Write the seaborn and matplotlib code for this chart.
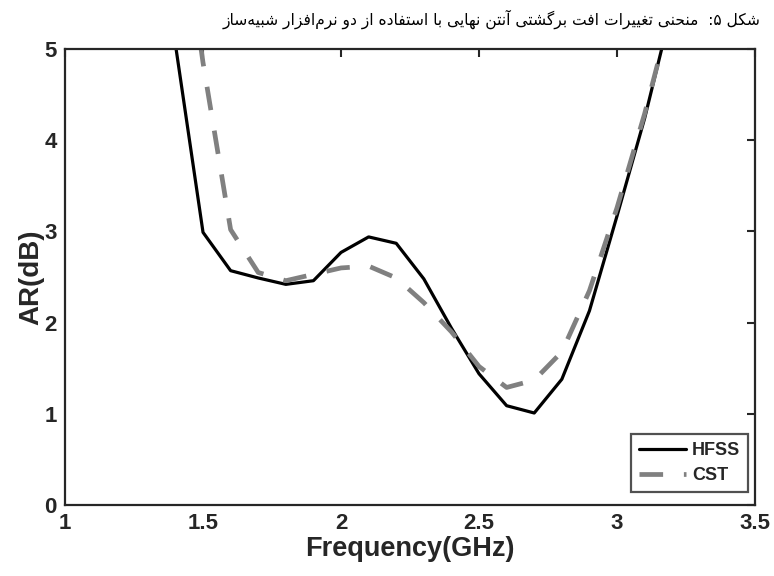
import numpy as np
import pandas as pd
import matplotlib
matplotlib.use("Agg")
import matplotlib.pyplot as plt
import seaborn as sns

# ---------------- data ----------------
freq = [1.4, 1.5, 1.6, 1.7, 1.8, 1.9, 2.0, 2.1, 2.2, 2.3, 2.4,
        2.5, 2.6, 2.7, 2.8, 2.9, 3.0, 3.1, 3.2]
hfss = [5.05, 2.99, 2.57, 2.49, 2.42, 2.46, 2.77, 2.94, 2.87, 2.48, 1.94,
        1.44, 1.09, 1.01, 1.38, 2.13, 3.17, 4.24, 5.47]
cst = [7.00, 4.85, 3.02, 2.55, 2.46, 2.53, 2.60, 2.62, 2.49, 2.22, 1.90,
       1.52, 1.29, 1.37, 1.68, 2.35, 3.26, 4.29, 5.45]
series_names = ["HFSS", "CST"]
xticks = [1, 1.5, 2, 2.5, 3, 3.5]
xticklabels = ["1", "1.5", "2", "2.5", "3", "3.5"]
yticks = [0, 1, 2, 3, 4, 5]
title_text = "شکل ۵:  منحنی تغییرات افت برگشتی آنتن نهایی با استفاده از دو نرم\u200cافزار شبیه\u200cساز"
xlabel = "Frequency(GHz)"
ylabel = "AR(dB)"

# ------------- simple Arabic/Persian shaping -------------
FORMS = {
    "\u0627": (0xFE8D, 0xFE8E, None, None),
    "\u0622": (0xFE81, 0xFE82, None, None),
    "\u0628": (0xFE8F, 0xFE90, 0xFE91, 0xFE92),
    "\u067E": (0xFB56, 0xFB57, 0xFB58, 0xFB59),
    "\u062A": (0xFE95, 0xFE96, 0xFE97, 0xFE98),
    "\u062B": (0xFE99, 0xFE9A, 0xFE9B, 0xFE9C),
    "\u062C": (0xFE9D, 0xFE9E, 0xFE9F, 0xFEA0),
    "\u0686": (0xFB7A, 0xFB7B, 0xFB7C, 0xFB7D),
    "\u062D": (0xFEA1, 0xFEA2, 0xFEA3, 0xFEA4),
    "\u062E": (0xFEA5, 0xFEA6, 0xFEA7, 0xFEA8),
    "\u062F": (0xFEA9, 0xFEAA, None, None),
    "\u0630": (0xFEAB, 0xFEAC, None, None),
    "\u0631": (0xFEAD, 0xFEAE, None, None),
    "\u0632": (0xFEAF, 0xFEB0, None, None),
    "\u0698": (0xFB8A, 0xFB8B, None, None),
    "\u0633": (0xFEB1, 0xFEB2, 0xFEB3, 0xFEB4),
    "\u0634": (0xFEB5, 0xFEB6, 0xFEB7, 0xFEB8),
    "\u0635": (0xFEB9, 0xFEBA, 0xFEBB, 0xFEBC),
    "\u0636": (0xFEBD, 0xFEBE, 0xFEBF, 0xFEC0),
    "\u0637": (0xFEC1, 0xFEC2, 0xFEC3, 0xFEC4),
    "\u0638": (0xFEC5, 0xFEC6, 0xFEC7, 0xFEC8),
    "\u0639": (0xFEC9, 0xFECA, 0xFECB, 0xFECC),
    "\u063A": (0xFECD, 0xFECE, 0xFECF, 0xFED0),
    "\u0641": (0xFED1, 0xFED2, 0xFED3, 0xFED4),
    "\u0642": (0xFED5, 0xFED6, 0xFED7, 0xFED8),
    "\u06A9": (0xFB8E, 0xFB8F, 0xFB90, 0xFB91),
    "\u06AF": (0xFB92, 0xFB93, 0xFB94, 0xFB95),
    "\u0644": (0xFEDD, 0xFEDE, 0xFEDF, 0xFEE0),
    "\u0645": (0xFEE1, 0xFEE2, 0xFEE3, 0xFEE4),
    "\u0646": (0xFEE5, 0xFEE6, 0xFEE7, 0xFEE8),
    "\u0647": (0xFEE9, 0xFEEA, 0xFEEB, 0xFEEC),
    "\u0648": (0xFEED, 0xFEEE, None, None),
    "\u06CC": (0xFBFC, 0xFBFD, 0xFBFE, 0xFBFF),
}


def dual(c):
    return c in FORMS and FORMS[c][2] is not None


def shape_rtl(s):
    out = []
    n = len(s)
    for i, c in enumerate(s):
        if c == "\u200c":
            continue
        if c not in FORMS:
            out.append(c)
            continue
        prev = s[i - 1] if i > 0 else ""
        nxt = s[i + 1] if i + 1 < n else ""
        jp = dual(prev)
        jn = dual(c) and (nxt in FORMS)
        iso, fin, ini, med = FORMS[c]
        if jp and jn:
            g = med
        elif jp:
            g = fin
        elif jn:
            g = ini
        else:
            g = iso
        out.append(chr(g))
    return "".join(out)[::-1]


# ---------------- figure ----------------
sns.set_style("white")
plt.rcParams["font.family"] = ["Liberation Sans", "DejaVu Sans"]
plt.rcParams["font.weight"] = "bold"

df = pd.DataFrame({
    "Frequency": freq * 2,
    "AR": hfss + cst,
    "Solver": [series_names[0]] * len(freq) + [series_names[1]] * len(freq),
})

fig = plt.figure(figsize=(7.74, 5.76), dpi=100)
ax = fig.add_axes([0.084, 0.123, 0.8915, 0.792])

sns.lineplot(data=df[df["Solver"] == "HFSS"], x="Frequency", y="AR",
             color="black", linewidth=2.3, label="HFSS", ax=ax)
sns.lineplot(data=df[df["Solver"] == "CST"], x="Frequency", y="AR",
             color="#808080", linewidth=3.4, label="CST", ax=ax)
ax.lines[1].set_dashes([5.0, 4.4])
ax.lines[1].set_dash_capstyle("butt")

ax.set_xlim(1, 3.5)
ax.set_ylim(0, 5)
ax.set_xticks(xticks)
ax.set_xticklabels(xticklabels)
ax.set_yticks(yticks)
ax.tick_params(direction="in", length=6, width=1.5, color="#262626",
               labelsize=16, top=True, right=True, pad=6,
               labelcolor="#262626")
for lab in ax.get_xticklabels() + ax.get_yticklabels():
    lab.set_fontweight("bold")
for sp in ax.spines.values():
    sp.set_linewidth(1.6)
    sp.set_color("#262626")
    sp.set_visible(True)

ax.set_xlabel(xlabel, fontsize=19.5, fontweight="bold", color="#262626", labelpad=1)
ax.set_ylabel(ylabel, fontsize=20, fontweight="bold", color="#262626", labelpad=0)

leg = ax.legend(loc="lower right", bbox_to_anchor=(0.99, 0.0285), fontsize=13,
                frameon=True, fancybox=False, edgecolor="#262626",
                handlelength=2.6, handletextpad=0.3, borderpad=0.45,
                labelspacing=0.45, borderaxespad=0.0)
leg.get_frame().set_linewidth(1.6)
for t in leg.get_texts():
    t.set_fontweight("bold")
    t.set_color("#262626")

fig.text(760 / 774, 1 - 19 / 576, shape_rtl(title_text), ha="right", va="center",
         fontsize=11.2, fontweight="normal", family=["DejaVu Sans"], color="black")

fig.savefig("out.png", dpi=100)
